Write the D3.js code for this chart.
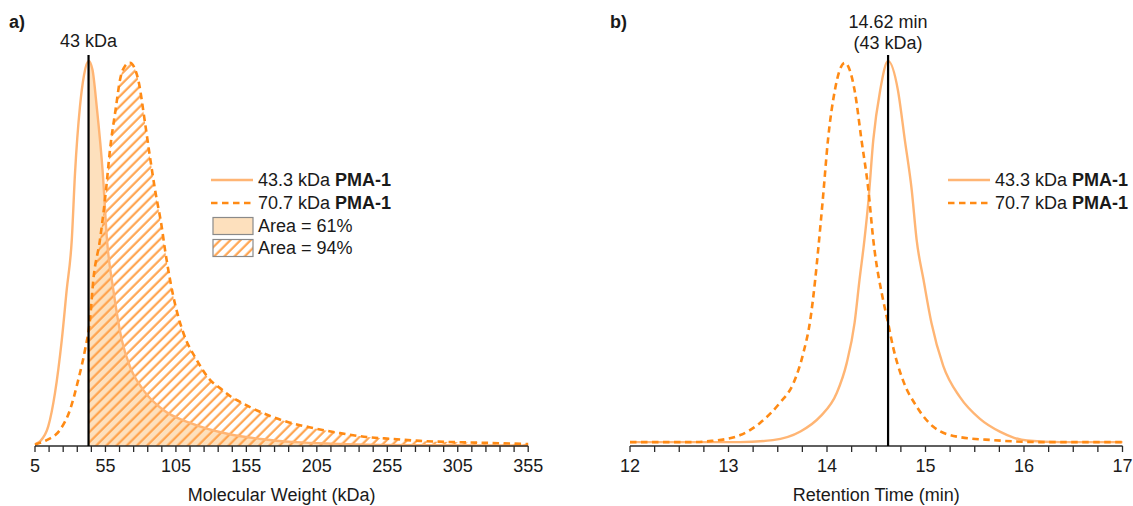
<!DOCTYPE html>
<html>
<head>
<meta charset="utf-8">
<script src="https://cdn.jsdelivr.net/npm/d3@7/dist/d3.min.js"></script>
<style>
  html, body { margin: 0; padding: 0; background: #fff; }
  svg { display: block; font-family: "Liberation Sans", Arial, sans-serif; }
</style>
</head>
<body>
<svg id="chart" width="1133" height="506"></svg>
<script>
// ---- Panel a: molecular weight distributions (normalised signal) ----
const mwLowKDa = [5, 8.55, 14.4, 19.2, 24.0, 27.5, 31.1, 33.4, 36.9, 39.8, 43.1, 45.8, 48.8, 53.1, 56.1, 60.6, 66.6, 72.4, 81.9, 96.1, 115, 143, 165, 190, 215, 250, 300, 355];
const mwLowSignal = [0.005, 0.012, 0.050, 0.136, 0.271, 0.399, 0.527, 0.698, 0.868, 0.949, 0.985, 0.962, 0.868, 0.698, 0.527, 0.399, 0.271, 0.203, 0.143, 0.092, 0.059, 0.030, 0.018, 0.010, 0.006, 0.003, 0.002, 0.001];

const mwHighKDa = [5, 6.2, 13.3, 22.7, 29.8, 35.7, 40.5, 44.0, 46.4, 51.1, 55.4, 58.2, 62.5, 65.3, 68.9, 72.4, 75.3, 78.3, 83.1, 86.6, 90.2, 94.9, 97.3, 103.2, 110.3, 119.8, 129.2, 136.3, 143.4, 150.5, 166.9, 183.7, 202.4, 221.5, 240.5, 259.2, 278.3, 301.8, 325.7, 355];
const mwHighSignal = [0.003, 0.005, 0.015, 0.041, 0.092, 0.169, 0.246, 0.322, 0.425, 0.527, 0.655, 0.757, 0.868, 0.936, 0.972, 0.980, 0.969, 0.936, 0.826, 0.739, 0.655, 0.561, 0.501, 0.382, 0.289, 0.220, 0.169, 0.148, 0.128, 0.113, 0.084, 0.062, 0.046, 0.033, 0.023, 0.018, 0.013, 0.010, 0.008, 0.005];

const mwTicks = [5, 55, 105, 155, 205, 255, 305, 355];
const mwMarker = 43;

// ---- Panel b: SEC traces (normalised signal) ----
const rtLowMin = [12.0, 12.71, 13.12, 13.45, 13.73, 13.93, 14.10, 14.20, 14.28, 14.33, 14.38, 14.42, 14.47, 14.54, 14.62, 14.72, 14.79, 14.86, 14.91, 14.98, 15.06, 15.18, 15.35, 15.55, 15.76, 15.90, 16.03, 16.37, 17.0];
const rtLowSignal = [0.010, 0.010, 0.010, 0.015, 0.037, 0.075, 0.136, 0.212, 0.315, 0.425, 0.527, 0.625, 0.783, 0.910, 0.985, 0.910, 0.783, 0.655, 0.527, 0.425, 0.315, 0.205, 0.125, 0.070, 0.036, 0.021, 0.014, 0.010, 0.010];

const rtHighMin = [12.0, 12.61, 12.83, 13.12, 13.32, 13.52, 13.66, 13.76, 13.83, 13.88, 13.91, 13.96, 14.01, 14.08, 14.13, 14.18, 14.23, 14.28, 14.35, 14.42, 14.47, 14.57, 14.62, 14.67, 14.77, 14.91, 15.08, 15.32, 15.69, 16.16, 17.0];
const rtHighSignal = [0.010, 0.010, 0.013, 0.028, 0.059, 0.110, 0.161, 0.238, 0.322, 0.425, 0.501, 0.638, 0.783, 0.910, 0.962, 0.980, 0.962, 0.910, 0.783, 0.655, 0.527, 0.373, 0.315, 0.254, 0.169, 0.101, 0.049, 0.024, 0.015, 0.010, 0.010];

const rtTicks = [12, 13, 14, 15, 16, 17];
const rtMarker = 14.62;

const seriesNames = ["43.3 kDa ", "70.7 kDa "];
const sampleName = "PMA-1";
const areaLabels = ["Area = 61%", "Area = 94%"];

// ---- styling ----
const lightOrange = "#ffb574";
const darkOrange = "#ff8a14";
const fillPeach = "#fde0bd";
const hatchColor = "#ffa048";
const textColor = "#1a1a1a";
const dash = "6.5,4.5";
const fontSize = 18;

const svg = d3.select("#chart");
const defs = svg.append("defs");

defs.append("pattern")
  .attr("id", "hatch")
  .attr("patternUnits", "userSpaceOnUse")
  .attr("width", 7.2).attr("height", 7.2)
  .attr("patternTransform", "rotate(45)")
  .append("line")
  .attr("x1", 1.5).attr("y1", 0).attr("x2", 1.5).attr("y2", 7.2)
  .attr("stroke", hatchColor).attr("stroke-width", 2.1);

const baseY = 446;
const topY = 55;
const y = d3.scaleLinear().domain([0, 1]).range([baseY, topY]);

const xA = d3.scaleLinear().domain([5, 355]).range([35, 528.2]);
const xB = d3.scaleLinear().domain([12, 17]).range([630, 1122.5]);

function zip(xs, ys) { return xs.map((v, i) => [v, ys[i]]); }

function drawAxis(g, x, majors, minorStep, title) {
  const [d0, d1] = x.domain();
  const minors = d3.range(d0, d1 + minorStep / 2, minorStep);
  g.append("line")
    .attr("x1", x(d0)).attr("x2", x(d1))
    .attr("y1", baseY).attr("y2", baseY)
    .attr("stroke", "#2a2a2a").attr("stroke-width", 1.6);
  g.selectAll("line.tick").data(minors).enter().append("line")
    .attr("class", "tick")
    .attr("x1", d => x(d)).attr("x2", d => x(d))
    .attr("y1", baseY).attr("y2", baseY + 6)
    .attr("stroke", "#2a2a2a").attr("stroke-width", 1.3);
  g.selectAll("text.tl").data(majors).enter().append("text")
    .attr("class", "tl")
    .attr("x", d => x(d)).attr("y", 472)
    .attr("text-anchor", "middle")
    .attr("font-size", fontSize).attr("fill", textColor)
    .text(d => d);
  g.append("text")
    .attr("x", (x(d0) + x(d1)) / 2).attr("y", 501)
    .attr("text-anchor", "middle")
    .attr("font-size", fontSize).attr("fill", textColor)
    .text(title);
}

// ================= Panel a =================
const gA = svg.append("g");

defs.append("clipPath").attr("id", "clipA")
  .append("rect")
  .attr("x", xA(mwMarker)).attr("y", 0)
  .attr("width", xA(355) - xA(mwMarker)).attr("height", baseY);

const areaA = d3.area().x(d => xA(d[0])).y0(y(0)).y1(d => y(d[1])).curve(d3.curveMonotoneX);
const lineA = d3.line().x(d => xA(d[0])).y(d => y(d[1])).curve(d3.curveMonotoneX);

const lowA = zip(mwLowKDa, mwLowSignal);
const highA = zip(mwHighKDa, mwHighSignal);

gA.append("path").attr("d", areaA(lowA))
  .attr("fill", fillPeach).attr("clip-path", "url(#clipA)");
gA.append("path").attr("d", areaA(highA))
  .attr("fill", "url(#hatch)").attr("clip-path", "url(#clipA)");

gA.append("path").attr("d", lineA(lowA))
  .attr("fill", "none").attr("stroke", lightOrange).attr("stroke-width", 2.4);
gA.append("path").attr("d", lineA(highA))
  .attr("fill", "none").attr("stroke", darkOrange).attr("stroke-width", 2.6)
  .attr("stroke-dasharray", dash);

drawAxis(gA, xA, mwTicks, 10, "Molecular Weight (kDa)");

gA.append("line")
  .attr("x1", xA(mwMarker)).attr("x2", xA(mwMarker))
  .attr("y1", y(1)).attr("y2", baseY)
  .attr("stroke", "#000").attr("stroke-width", 2.2);
gA.append("text")
  .attr("x", xA(mwMarker)).attr("y", 47)
  .attr("text-anchor", "middle").attr("font-size", fontSize).attr("fill", textColor)
  .text(mwMarker + " kDa");

gA.append("text").attr("x", 9).attr("y", 28)
  .attr("font-size", fontSize).attr("font-weight", "bold").attr("fill", textColor).text("a)");

// legend a
function legendLine(g, x0, yc, color, dashed) {
  const l = g.append("line")
    .attr("x1", x0).attr("x2", x0 + 42).attr("y1", yc).attr("y2", yc)
    .attr("stroke", color).attr("stroke-width", 2.5);
  if (dashed) l.attr("stroke-dasharray", dash);
}
function legendText(g, x0, yc, parts) {
  const t = g.append("text").attr("x", x0).attr("y", yc).attr("dy", "0.36em")
    .attr("font-size", fontSize).attr("fill", textColor);
  parts.forEach(p => t.append("tspan").attr("font-weight", p.bold ? "bold" : null).text(p.s));
}

const legA = gA.append("g");
const legAx = 211;
legendLine(legA, legAx, 180, lightOrange, false);
legendText(legA, legAx + 47, 180, [{ s: seriesNames[0] }, { s: sampleName, bold: true }]);
legendLine(legA, legAx, 203, darkOrange, true);
legendText(legA, legAx + 47, 203, [{ s: seriesNames[1] }, { s: sampleName, bold: true }]);
legA.append("rect").attr("x", legAx + 2).attr("y", 217.5).attr("width", 40).attr("height", 17)
  .attr("fill", fillPeach).attr("stroke", "#8a8a8a").attr("stroke-width", 1.2);
legendText(legA, legAx + 47, 226, [{ s: areaLabels[0] }]);
legA.append("rect").attr("x", legAx + 2).attr("y", 239.5).attr("width", 40).attr("height", 17)
  .attr("fill", "url(#hatch)").attr("stroke", "#8a8a8a").attr("stroke-width", 1.2);
legendText(legA, legAx + 47, 248, [{ s: areaLabels[1] }]);

// ================= Panel b =================
const gB = svg.append("g");
const lineB = d3.line().x(d => xB(d[0])).y(d => y(d[1])).curve(d3.curveMonotoneX);

gB.append("path").attr("d", lineB(zip(rtLowMin, rtLowSignal)))
  .attr("fill", "none").attr("stroke", lightOrange).attr("stroke-width", 2.4);
gB.append("path").attr("d", lineB(zip(rtHighMin, rtHighSignal)))
  .attr("fill", "none").attr("stroke", darkOrange).attr("stroke-width", 2.6)
  .attr("stroke-dasharray", dash);

drawAxis(gB, xB, rtTicks, 0.25, "Retention Time (min)");

gB.append("line")
  .attr("x1", xB(rtMarker)).attr("x2", xB(rtMarker))
  .attr("y1", y(1)).attr("y2", baseY)
  .attr("stroke", "#000").attr("stroke-width", 2.2);
gB.append("text")
  .attr("x", xB(rtMarker)).attr("y", 28)
  .attr("text-anchor", "middle").attr("font-size", fontSize).attr("fill", textColor)
  .text(rtMarker + " min");
gB.append("text")
  .attr("x", xB(rtMarker)).attr("y", 49)
  .attr("text-anchor", "middle").attr("font-size", fontSize).attr("fill", textColor)
  .text("(" + mwMarker + " kDa)");

gB.append("text").attr("x", 610).attr("y", 28)
  .attr("font-size", fontSize).attr("font-weight", "bold").attr("fill", textColor).text("b)");

const legB = gB.append("g");
const legBx = 948;
legendLine(legB, legBx, 180, lightOrange, false);
legendText(legB, legBx + 47, 180, [{ s: seriesNames[0] }, { s: sampleName, bold: true }]);
legendLine(legB, legBx, 203, darkOrange, true);
legendText(legB, legBx + 47, 203, [{ s: seriesNames[1] }, { s: sampleName, bold: true }]);
</script>
</body>
</html>
